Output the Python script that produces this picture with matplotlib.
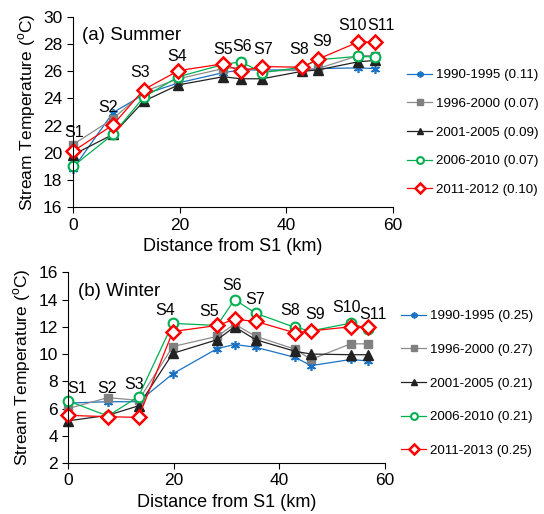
import matplotlib
matplotlib.use("Agg")
import matplotlib.pyplot as plt

plt.rcParams['font.family'] = ['Liberation Sans', 'DejaVu Sans']
plt.rcParams['mathtext.fontset'] = 'custom'
plt.rcParams['mathtext.rm'] = 'Liberation Sans'

# station distance from S1 (km)
stations = ['S1', 'S2', 'S3', 'S4', 'S5', 'S6', 'S7', 'S8', 'S9', 'S10', 'S11']
dist = [0, 7.5, 13.3, 19.8, 28.2, 31.5, 35.5, 43.0, 46.0, 53.5, 56.7]

# summer
summer_labels = ['1990-1995 (0.11)', '1996-2000 (0.07)', '2001-2005 (0.09)',
                 '2006-2010 (0.07)', '2011-2012 (0.10)']
summer_1990 = [18.8, 22.95, 24.3, 25.15, 25.9, 26.1, 26.1, 26.1, 26.2, 26.25, 26.2]
summer_1996 = [20.6, 22.5, 24.5, 25.45, 26.2, 26.3, 26.0, 26.1, 26.2, 27.15, 27.15]
summer_2001 = [19.85, 21.35, 23.8, 25.0, 25.6, 25.45, 25.45, 26.0, 26.1, 26.7, 26.8]
summer_2006 = [19.0, 21.35, 24.1, 25.6, 26.5, 26.7, 25.9, 26.3, 26.85, 27.1, 27.05]
summer_2011 = [20.1, 22.05, 24.65, 26.05, 26.55, 26.0, 26.35, 26.3, 26.9, 28.15, 28.15]

# winter
winter_labels = ['1990-1995 (0.25)', '1996-2000 (0.27)', '2001-2005 (0.21)',
                 '2006-2010 (0.21)', '2011-2013 (0.25)']
winter_1990 = [6.4, 6.5, 6.5, 8.55, 10.4, 10.7, 10.5, 9.75, 9.15, 9.6, 9.5]
winter_1996 = [6.0, 6.8, 6.6, 10.55, 11.3, 12.2, 11.3, 10.35, 9.6, 10.75, 10.75]
winter_2001 = [5.1, 5.5, 6.2, 10.05, 11.05, 12.0, 11.05, 10.2, 10.0, 9.95, 9.95]
winter_2006 = [6.55, 5.45, 6.88, 12.25, 12.1, 14.0, 13.0, 11.95, 11.7, 12.27, 11.85]
winter_2011 = [5.5, 5.4, 5.35, 11.65, 12.1, 12.55, 12.4, 11.55, 11.7, 12.0, 12.0]

# where the station names sit (data coords)
summer_tags = [(0.2, 21.5), (6.6, 23.3), (12.6, 25.9), (19.5, 27.1), (28.1, 27.6),
               (31.7, 27.8), (35.6, 27.6), (42.4, 27.6), (46.7, 28.2), (52.5, 29.4),
               (57.8, 29.4)]
winter_tags = [(1.6, 7.5), (7.3, 7.5), (12.4, 7.75), (18.3, 13.2), (26.7, 13.1),
               (31.0, 15.0), (35.4, 14.0), (42.0, 13.2), (46.7, 12.9), (52.8, 13.4),
               (57.7, 12.9)]

styles = [
    dict(color='#1a72c4', marker=(6, 2, 0), ms=6.5, mec='#1a72c4', mew=1.2),
    dict(color='#8c8c8c', marker='s', ms=6, mfc='#808080', mec='#808080'),
    dict(color='#222222', marker='^', ms=6.5, mfc='#222222', mec='#222222'),
    dict(color='#00b050', marker='o', ms=7, mfc='white', mec='#00b050', mew=1.5),
    dict(color='#ff0000', marker='D', ms=7.5, mfc='white', mec='#ff0000', mew=1.8),
]

fig = plt.figure(figsize=(5.44, 5.14), dpi=100)
ax1 = fig.add_axes([0.134, 0.597, 0.588, 0.370])
ax2 = fig.add_axes([0.1256, 0.0992, 0.582, 0.371])


def draw(ax, series, labels, tags, title, ylim, yticks, legend_y, legend_x, spacing):
    for ys, lab, st in zip(series, labels, styles):
        ax.plot(dist, ys, lw=0.9, label=lab, clip_on=False, **st)
    for name, (tx, ty) in zip(stations, tags):
        ax.text(tx, ty, name, fontsize=11.5, ha='center', va='center')
    ax.text(0.03, 0.9, title, transform=ax.transAxes, fontsize=13.5, va='center')
    ax.set_xlim(0, 60)
    ax.set_ylim(*ylim)
    ax.set_xticks([0, 20, 40, 60])
    ax.set_yticks(yticks)
    ax.spines['top'].set_visible(False)
    ax.spines['right'].set_visible(False)
    ax.tick_params(labelsize=12.5, width=0.8, length=4)
    ax.set_xlabel('Distance from S1 (km)', fontsize=13)
    ax.set_ylabel(r'Stream Temperature ($^{\mathrm{o}}$C)', fontsize=12.5, labelpad=4)
    ax.legend(loc='upper left', bbox_to_anchor=(legend_x, legend_y),
              bbox_transform=fig.transFigure, frameon=False, fontsize=9.6,
              handlelength=1.9, handletextpad=0.25, labelspacing=spacing,
              markerscale=0.7, borderpad=0, borderaxespad=0)


draw(ax1, [summer_1990, summer_1996, summer_2001, summer_2006, summer_2011],
     summer_labels, summer_tags, '(a) Summer', (16, 30), range(16, 31, 2),
     0.866, 0.748, 1.23)
draw(ax2, [winter_1990, winter_1996, winter_2001, winter_2006, winter_2011],
     winter_labels, winter_tags, '(b) Winter', (2, 16), range(2, 17, 2),
     0.397, 0.737, 1.6)

fig.savefig('out.png', dpi=100)
